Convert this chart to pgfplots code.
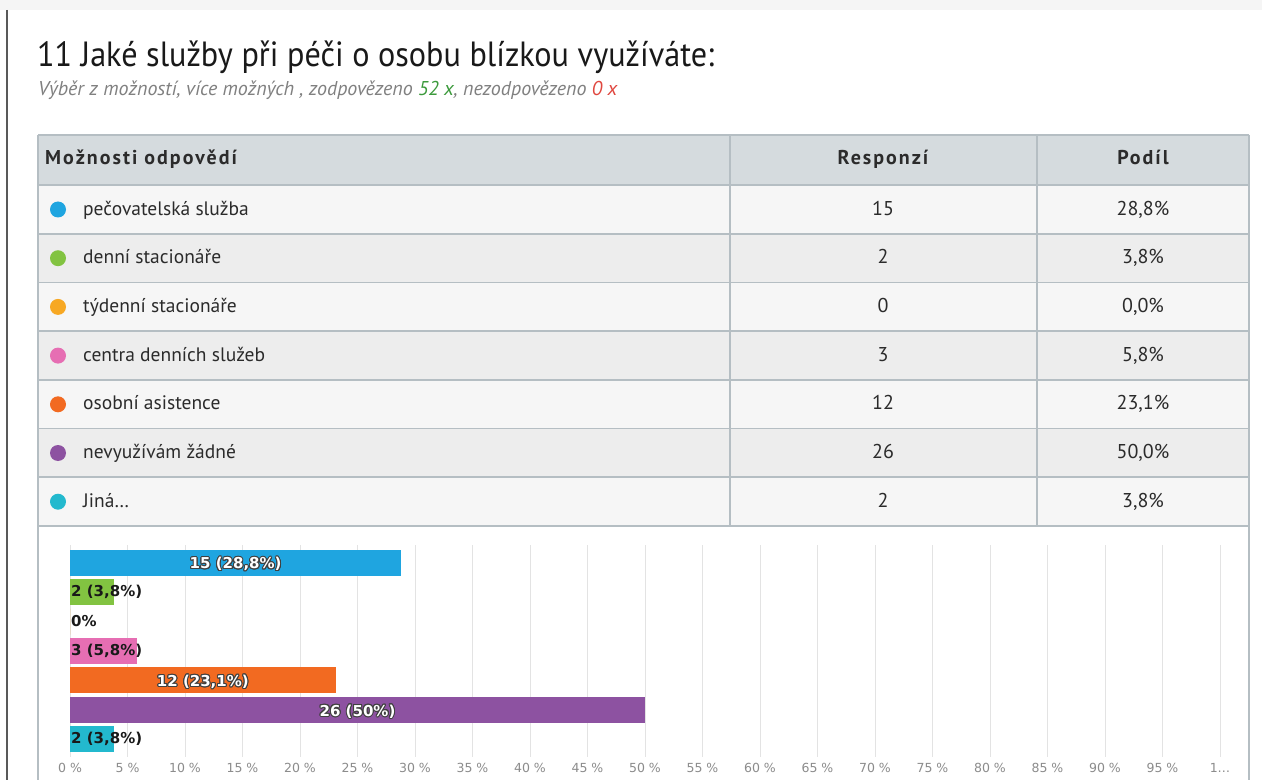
\documentclass[border=0pt]{standalone}
\usepackage{pgfplots}
\pgfplotsset{compat=1.18}
\usepackage{fontspec}
\setmainfont{PT Sans}
\newfontfamily\condfont[FakeStretch=0.92]{PT Sans}
\newfontfamily\hdrfont[LetterSpace=10]{PT Sans}
\newfontfamily\dvfont{DejaVu Sans}
\usepackage{contour}
\contourlength{1pt}
\definecolor{cblue}{HTML}{1FA5E0}
\definecolor{cgreen}{HTML}{82C341}
\definecolor{cyellow}{HTML}{F7A823}
\definecolor{cpink}{HTML}{E66EB3}
\definecolor{corange}{HTML}{F26A21}
\definecolor{cpurple}{HTML}{8D52A1}
\definecolor{ccyan}{HTML}{23B9CE}
\definecolor{hdr}{HTML}{D5DBDE}
\definecolor{rowa}{HTML}{F6F6F6}
\definecolor{rowb}{HTML}{EDEDED}
\definecolor{bord}{HTML}{B5BEC3}
\definecolor{txt}{HTML}{2B2B2B}
\begin{document}
\begin{tikzpicture}
\begin{scope}[x=1pt,y=-1pt]
\fill[white] (0,0) rectangle (1262,780);
\fill[black!4] (0,0) rectangle (1262,10);
\draw[line width=2pt, black!65] (7,10) -- (7,780);
% title
\node[anchor=base west, inner sep=0, text=black!90, font=\fontsize{35}{40}\selectfont\condfont] at (37,67) {11 Jaké služby při péči o osobu blízkou využíváte:};
\node[anchor=base west, inner sep=0, font=\fontsize{20}{24}\selectfont\itshape] at (38,96)
 {\textcolor{black!50}{Výběr z možností, více možných , zodpovězeno }\textcolor[HTML]{3C9A3C}{52 x}\textcolor{black!50}{, nezodpovězeno }\textcolor[HTML]{E0473F}{0 x}};
% table
\fill[hdr] (38,135) rectangle (1249,185);
\foreach \i in {0,...,6}{
  \pgfmathsetmacro{\ya}{185+\i*48.7}
  \pgfmathsetmacro{\yb}{185+(\i+1)*48.7}
  \pgfmathparse{mod(\i,2)==0?1:0}
  \ifnum\pgfmathresult=1 \fill[rowa] (38,\ya) rectangle (1249,\yb); \else \fill[rowb] (38,\ya) rectangle (1249,\yb); \fi
}
\foreach \i in {0,...,7}{
  \draw[bord, line width=1.6pt] (38,{185+\i*48.7}) -- (1249,{185+\i*48.7});
}
\draw[bord, line width=1.6pt] (38,135) -- (1249,135);
\foreach \xx in {38,730,1037,1249}{ \draw[bord, line width=1.6pt] (\xx,135) -- (\xx,526); }
\draw[bord, line width=1.6pt] (38,526) -- (38,780);
\draw[bord, line width=1.6pt] (1249,526) -- (1249,780);
% header text
\node[anchor=mid west, inner sep=0, text=txt, font=\fontsize{20}{24}\selectfont\hdrfont\bfseries] at (45,162) {Možnosti odpovědí};
\node[anchor=mid, inner sep=0, text=txt, font=\fontsize{20}{24}\selectfont\hdrfont\bfseries] at (883,162) {Responzí};
\node[anchor=mid, inner sep=0, text=txt, font=\fontsize{20}{24}\selectfont\hdrfont\bfseries] at (1143,162) {Podíl};
% rows
\foreach \lab/\col/\n/\p [count=\k from 0] in {pečovatelská služba/cblue/15/{28,8\%},denní stacionáře/cgreen/2/{3,8\%},týdenní stacionáře/cyellow/0/{0,0\%},centra denních služeb/cpink/3/{5,8\%},osobní asistence/corange/12/{23,1\%},nevyužívám žádné/cpurple/26/{50,0\%},Jiná…/ccyan/2/{3,8\%}}{
  \pgfmathsetmacro{\yc}{209.5+\k*48.7}
  \fill[\col] (58,\yc) circle (8);
  \node[anchor=mid west, inner sep=0, text=txt, font=\fontsize{19.5}{22}\selectfont] at (83,\yc+3) {\lab};
  \node[anchor=mid, inner sep=0, text=txt, font=\fontsize{20}{24}\selectfont] at (883,\yc+3) {\n};
  \node[anchor=mid, inner sep=0, text=txt, font=\fontsize{20}{24}\selectfont] at (1143,\yc+3) {\p};
}
\end{scope}
\begin{axis}[
  at={(70pt,-757pt)}, anchor=south west,
  scale only axis, width=1150pt, height=212pt,
  xmin=0, xmax=100, ymin=-0.6, ymax=6.6, y dir=reverse,
  axis line style={draw=none},
  xmajorgrids, major grid style={black!11, line width=1pt},
  xtick={0,5,...,100},
  xticklabels={0 \%,5 \%,10 \%,15 \%,20 \%,25 \%,30 \%,35 \%,40 \%,45 \%,50 \%,55 \%,60 \%,65 \%,70 \%,75 \%,80 \%,85 \%,90 \%,95 \%,1…},
  xticklabel style={text=black!45, font=\fontsize{12.5}{15}\selectfont\dvfont, yshift=-3pt},
  ytick=\empty, tick style={draw=none},
  clip=false,
]
\addplot[xbar, bar width=26pt, bar shift=0pt, fill=cblue, draw=none] coordinates {(28.8,0)};
\addplot[xbar, bar width=26pt, bar shift=0pt, fill=cgreen, draw=none] coordinates {(3.8,1)};
\addplot[xbar, bar width=26pt, bar shift=0pt, fill=cyellow, draw=none] coordinates {(0,2)};
\addplot[xbar, bar width=26pt, bar shift=0pt, fill=cpink, draw=none] coordinates {(5.8,3)};
\addplot[xbar, bar width=26pt, bar shift=0pt, fill=corange, draw=none] coordinates {(23.1,4)};
\addplot[xbar, bar width=26pt, bar shift=0pt, fill=cpurple, draw=none] coordinates {(50.0,5)};
\addplot[xbar, bar width=26pt, bar shift=0pt, fill=ccyan, draw=none] coordinates {(3.8,6)};
% centred labels on long bars
\addplot[only marks, mark=none, point meta=explicit symbolic,
  nodes near coords={\contour{black!75}{\pgfplotspointmeta}},
  nodes near coords style={anchor=center, yshift=-2pt, text=white, font=\fontsize{15}{18}\selectfont\dvfont\bfseries}]
  table[meta=label, col sep=semicolon] {
x;y;label
14.4;0;15 (28,8\%)
11.55;4;12 (23,1\%)
25;5;26 (50\%)
};
% left labels on short bars
\addplot[only marks, mark=none, point meta=explicit symbolic,
  nodes near coords,
  nodes near coords style={anchor=mid west, yshift=-2pt, inner sep=1pt, text=black!90, font=\fontsize{15}{18}\selectfont\dvfont\bfseries}]
  table[meta=label, col sep=semicolon] {
x;y;label
0;1;2 (3,8\%)
0;2;0\%
0;3;3 (5,8\%)
0;6;2 (3,8\%)
};
\end{axis}
\end{tikzpicture}
\end{document}
